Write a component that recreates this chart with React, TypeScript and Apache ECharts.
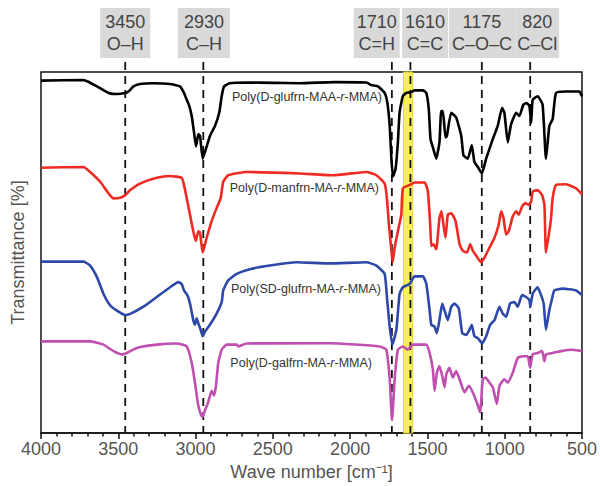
import React, { useEffect, useRef } from "react";
import * as echarts from "echarts";

const FONT = '"Liberation Sans", Arial, Helvetica, sans-serif';

// Wavenumber [cm-1], transmittance (offset, arbitrary %)
const glufrnMAA: [number, number][] = [
  [4000, 97.6], [3727, 97.8], [3694, 97.3], [3638, 96.0], [3563, 94.2], [3509, 93.9], [3456, 94.2], [3434, 94.6],
  [3402, 96.0], [3359, 96.7], [3273, 96.9], [3165, 96.7], [3101, 96.0], [3075, 94.2], [3057, 92.3], [3040, 90.5],
  [3025, 87.8], [3010, 83.3], [2997, 79.4], [2982, 82.8], [2971, 82.3], [2954, 76.0], [2933, 78.7], [2907, 82.3],
  [2874, 85.1], [2847, 88.7], [2831, 93.3], [2816, 96.0], [2778, 96.9], [2670, 97.1], [2500, 97.0], [2326, 96.9],
  [2100, 97.2], [1895, 97.1], [1863, 96.4], [1820, 96.0], [1777, 94.2], [1759, 91.4], [1744, 85.1], [1733, 76.0],
  [1723, 71.0], [1706, 73.2], [1691, 80.6], [1680, 88.8], [1659, 93.3], [1637, 94.2], [1609, 94.4], [1583, 94.9],
  [1529, 94.9], [1507, 94.2], [1491, 89.6], [1480, 81.4], [1465, 79.2], [1443, 76.0], [1422, 80.6], [1411, 89.2],
  [1400, 89.2], [1383, 81.9], [1374, 82.3], [1346, 88.7], [1314, 87.4], [1281, 82.3], [1267, 76.9], [1239, 76.0],
  [1213, 79.7], [1196, 75.1], [1174, 73.7], [1148, 71.9], [1120, 76.0], [1077, 81.4], [1045, 85.1], [1017, 90.1],
  [1002, 88.7], [980, 80.5], [959, 85.5], [926, 88.7], [905, 87.8], [879, 91.0], [858, 91.4], [840, 90.5],
  [829, 86.0], [819, 92.3], [787, 93.3], [755, 91.0], [733, 76.0], [711, 85.1], [690, 86.9], [668, 94.2],
  [603, 94.6], [517, 94.6], [500, 93.3],
];

const manfrnMA: [number, number][] = [
  [4000, 73.5], [3725, 73.7], [3682, 72.3], [3617, 69.6], [3563, 66.4], [3531, 65.0], [3488, 65.2], [3455, 65.9],
  [3423, 67.3], [3359, 69.1], [3251, 70.7], [3165, 71.2], [3090, 70.7], [3075, 68.7], [3057, 65.0], [3036, 60.5],
  [3015, 55.9], [2999, 53.2], [2982, 55.9], [2971, 55.5], [2954, 50.0], [2928, 54.1], [2896, 58.7], [2864, 62.3],
  [2838, 65.0], [2821, 69.6], [2789, 71.4], [2670, 72.3], [2326, 71.9], [2112, 71.4], [1895, 72.3], [1830, 71.4],
  [1777, 69.1], [1762, 65.0], [1749, 57.7], [1733, 50.5], [1725, 47.3], [1712, 51.4], [1691, 55.9], [1669, 60.5],
  [1659, 67.8], [1615, 68.7], [1583, 69.4], [1518, 69.4], [1497, 66.9], [1482, 57.7], [1475, 51.8], [1461, 52.3],
  [1443, 50.9], [1422, 59.6], [1409, 61.4], [1396, 57.7], [1383, 54.1], [1368, 60.5], [1346, 60.9], [1318, 58.7],
  [1292, 52.3], [1271, 50.5], [1245, 50.0], [1223, 52.3], [1206, 50.5], [1184, 49.1], [1152, 47.3], [1131, 48.6],
  [1098, 51.4], [1066, 54.1], [1039, 57.7], [1023, 61.4], [1008, 59.6], [991, 55.0], [974, 55.9], [948, 60.0],
  [926, 61.4], [909, 60.5], [887, 62.8], [866, 63.7], [845, 63.2], [829, 64.1], [819, 66.9], [787, 67.3],
  [758, 65.9], [743, 63.2], [733, 50.0], [711, 56.0], [700, 59.6], [690, 65.0], [668, 68.7], [603, 68.9],
  [539, 67.8], [500, 66.1],
];

const sdGlufrnMA: [number, number][] = [
  [4000, 47.5], [3725, 47.5], [3682, 46.4], [3638, 43.2], [3596, 38.6], [3553, 35.4], [3509, 33.9], [3456, 32.7],
  [3423, 33.0], [3337, 35.0], [3251, 37.7], [3165, 40.4], [3111, 41.8], [3090, 41.3], [3075, 39.5], [3053, 38.2],
  [3036, 35.9], [3015, 31.3], [3004, 30.0], [2993, 31.8], [2982, 30.4], [2967, 28.6], [2954, 26.8], [2939, 28.1],
  [2907, 30.0], [2864, 33.1], [2831, 36.3], [2821, 39.5], [2789, 42.3], [2734, 44.1], [2649, 45.4], [2519, 46.4],
  [2347, 47.3], [2132, 47.0], [1895, 47.3], [1830, 46.4], [1777, 44.1], [1762, 37.7], [1744, 29.5], [1727, 24.5],
  [1701, 28.6], [1680, 38.6], [1659, 40.4], [1615, 41.3], [1583, 43.4], [1529, 43.4], [1507, 41.3], [1486, 34.1],
  [1475, 30.0], [1454, 29.5], [1439, 27.7], [1422, 31.3], [1404, 35.9], [1383, 33.1], [1368, 31.3], [1346, 35.0],
  [1325, 35.9], [1297, 34.5], [1275, 27.7], [1249, 27.2], [1228, 28.6], [1213, 30.0], [1196, 26.8], [1174, 26.3],
  [1146, 24.9], [1120, 26.8], [1094, 30.0], [1066, 31.3], [1034, 35.0], [1013, 33.1], [991, 32.2], [965, 35.9],
  [937, 36.3], [916, 35.0], [888, 38.2], [862, 37.7], [840, 36.8], [834, 35.0], [819, 38.6], [787, 40.4],
  [765, 38.2], [748, 35.9], [733, 28.6], [711, 34.1], [696, 36.8], [679, 39.5], [625, 40.0], [539, 39.5],
  [500, 38.2],
];

const galfrnMA: [number, number][] = [
  [4000, 25.4], [3682, 25.4], [3596, 24.5], [3531, 22.7], [3477, 21.8], [3445, 22.2], [3380, 23.6], [3251, 24.5],
  [3122, 24.8], [3057, 24.0], [3025, 19.5], [3004, 14.0], [2986, 8.5], [2971, 5.8], [2956, 4.5], [2939, 6.3],
  [2918, 8.6], [2896, 11.7], [2881, 10.4], [2868, 13.1], [2853, 19.5], [2831, 23.1], [2799, 24.5], [2734, 24.5],
  [2724, 24.0], [2670, 24.8], [2132, 24.9], [1809, 24.0], [1766, 23.1], [1744, 14.9], [1729, 3.6], [1712, 14.9],
  [1691, 23.1], [1659, 24.0], [1626, 23.1], [1594, 24.5], [1507, 24.5], [1486, 22.2], [1465, 17.7], [1454, 11.7],
  [1439, 16.7], [1422, 18.6], [1404, 15.8], [1389, 12.7], [1378, 16.3], [1357, 18.1], [1336, 15.4], [1314, 17.2],
  [1292, 14.9], [1260, 11.3], [1232, 13.1], [1207, 11.3], [1174, 7.7], [1159, 5.8], [1142, 14.9], [1124, 15.4],
  [1099, 14.0], [1077, 12.7], [1051, 8.1], [1034, 13.1], [1002, 14.9], [980, 14.0], [948, 16.7], [916, 20.8],
  [884, 21.3], [851, 21.3], [836, 18.1], [819, 21.8], [787, 22.2], [758, 22.7], [743, 19.9], [733, 21.8],
  [690, 22.2], [636, 22.7], [571, 23.1], [500, 22.7],
];

const seriesNames = [
  "Poly(D-glufrn-MAA-{i|r}-MMA)",
  "Poly(D-manfrn-MA-{i|r}-MMA)",
  "Poly(SD-glufrn-MA-{i|r}-MMA)",
  "Poly(D-galfrn-MA-{i|r}-MMA)",
];
const seriesColors = ["#000000", "#ee2a22", "#2d48a8", "#c04fb0"];

// Band assignments
const bandWaves = [3455, 2950, 1730, 1610, 1148, 835]; // dashed line positions
const bandNumbers = ["3450", "2930", "1710", "1610", "1175", "820"];
const bandGroups = ["O–H", "C–H", "C=H", "C=C", "C–O–C", "C–Cl"];
const bandBoxCenters = [3455, 2946, 1828, 1515, 1147, 790];
const bandBoxWidths = [50, 52, 46, 46, 66, 44];
const highlight = [1655, 1595]; // yellow region

// label layout (pixel)
const nameLabelPos: [number, number][] = [
  [382, 97],
  [379, 188],
  [381, 289],
  [372, 363],
];

export default function App() {
  const ref = useRef<HTMLDivElement>(null);
  useEffect(() => {
    if (!ref.current) return;
    const chart = echarts.init(ref.current, undefined, { renderer: "svg" });
    const datasets = [glufrnMAA, manfrnMA, sdGlufrnMA, galfrnMA];
    chart.setOption({
      animation: false,
      textStyle: { fontFamily: FONT },
      grid: {
        left: 41,
        right: 17,
        top: 72,
        bottom: 48,
        show: true,
        borderColor: "#111",
        borderWidth: 1.5,
        backgroundColor: "transparent",
      },
      xAxis: {
        type: "value",
        inverse: true,
        min: 500,
        max: 4000,
        interval: 500,
        axisLine: { show: true, onZero: false, lineStyle: { color: "#111", width: 1.5 } },
        axisTick: { show: true, length: 6, lineStyle: { color: "#111", width: 1.5 } },
        minorTick: { show: true, splitNumber: 5, length: 3.5, lineStyle: { color: "#111", width: 1.5 } },
        axisLabel: {
          fontSize: 18,
          color: "#555",
          margin: 7,
          fontFamily: FONT,
          formatter: (v: number) => String(v),
        },
        splitLine: { show: false },
        name: "Wave number [cm⁻¹]",
        nameLocation: "middle",
        nameGap: 28,
        nameTextStyle: { fontSize: 18, color: "#555", fontFamily: FONT },
      },
      yAxis: {
        type: "value",
        min: 0,
        max: 100,
        axisLine: { show: false },
        axisTick: { show: false },
        axisLabel: { show: false },
        splitLine: { show: false },
        name: "Transmittance [%]",
        nameLocation: "middle",
        nameGap: 14,
        nameTextStyle: { fontSize: 18, color: "#555", fontFamily: FONT },
      },
      series: [
        {
          type: "line",
          data: [],
          z: 1,
          silent: true,
          markArea: {
            silent: true,
            itemStyle: { color: "rgba(248,238,70,0.9)", borderColor: "#e6d830", borderWidth: 1 },
            data: [[{ xAxis: highlight[0] }, { xAxis: highlight[1] }]],
          },
        },
        ...datasets.map((d, i) => ({
          type: "line",
          data: d,
          showSymbol: false,
          smooth: 0.15,
          z: 3,
          lineStyle: { color: seriesColors[i], width: 2.6 },
          itemStyle: { color: seriesColors[i] },
        })),
      ],
    });

    const yBot = chart.convertToPixel({ yAxisIndex: 0 }, 0) as number;
    const boxTop = 8;
    const boxH = 50;
    const graphics: any[] = [];
    bandWaves.forEach((w) => {
      const x = chart.convertToPixel({ xAxisIndex: 0 }, w) as number;
      graphics.push({
        type: "line",
        z: 2,
        silent: true,
        shape: { x1: x, y1: boxTop + boxH + 4, x2: x, y2: yBot },
        style: { stroke: "#111", lineWidth: 1.8, lineDash: [8, 6] },
      });
    });
    bandBoxCenters.forEach((w, i) => {
      const cx = chart.convertToPixel({ xAxisIndex: 0 }, w) as number;
      const bw = bandBoxWidths[i];
      graphics.push({
        type: "rect",
        z: 2,
        silent: true,
        shape: { x: cx - bw / 2, y: boxTop, width: bw, height: boxH },
        style: { fill: "#d9d9d9" },
      });
      [bandNumbers[i], bandGroups[i]].forEach((t, k) => {
        graphics.push({
          type: "text",
          z: 3,
          silent: true,
          x: cx,
          y: boxTop + 14 + k * 22,
          style: {
            text: t,
            fontSize: 18,
            fontFamily: FONT,
            fill: "#444",
            align: "center",
            verticalAlign: "middle",
            textAlign: "center",
            textVerticalAlign: "middle",
          },
        });
      });
    });
    seriesNames.forEach((n, i) => {
      graphics.push({
        type: "text",
        z: 4,
        silent: true,
        x: nameLabelPos[i][0],
        y: nameLabelPos[i][1],
        style: {
          text: n,
          fontSize: 12.5,
          fontFamily: FONT,
          fill: "#333",
          align: "right",
          verticalAlign: "middle",
          textAlign: "right",
          textVerticalAlign: "middle",
          rich: { i: { fontStyle: "italic", fontSize: 12.5, fontFamily: FONT, fill: "#333" } },
        },
      });
    });
    chart.setOption({ graphic: graphics });

    return () => chart.dispose();
  }, []);
  return (
    <div
      ref={ref}
      style={{ position: "absolute", left: 0, top: 0, width: 600, height: 486 }}
    />
  );
}
